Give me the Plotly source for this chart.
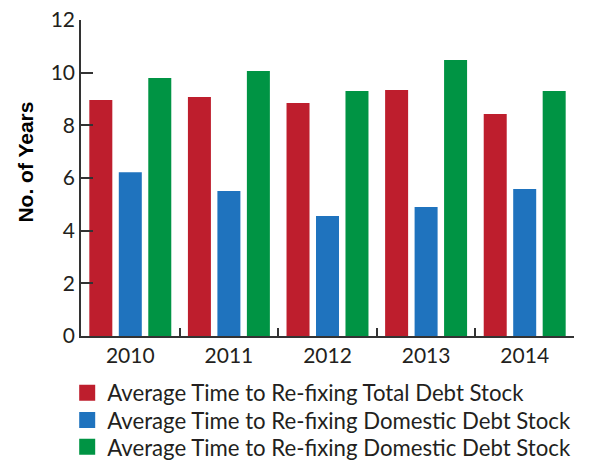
import plotly.graph_objects as go

years = ["2010", "2011", "2012", "2013", "2014"]
total_debt = [8.96, 9.08, 8.85, 9.34, 8.43]
domestic_debt = [6.22, 5.51, 4.56, 4.90, 5.58]
domestic_debt_2 = [9.80, 10.06, 9.30, 10.48, 9.30]

series_names = [
    "Average Time to Re-fixing Total Debt Stock",
    "Average Time to Re-fixing Domestic Debt Stock",
    "Average Time to Re-fixing Domestic Debt Stock",
]
series_values = [total_debt, domestic_debt, domestic_debt_2]
colors = ["#BE1E2D", "#1F73BE", "#009444"]

y_ticks = [0, 2, 4, 6, 8, 10, 12]

font_main = "Lato, 'Open Sans', sans-serif"
legend_ids = ["legend", "legend2", "legend3"]
legend_rows = [-0.180, -0.266, -0.351]

fig = go.Figure()
for name, vals, col in zip(series_names, series_values, colors):
    fig.add_trace(go.Bar(x=years, y=vals, name=name, marker_color=col,
                         marker_line_width=0, showlegend=False))
# one legend per series so rows can be spaced freely, with 16px swatches
for name, col, lid in zip(series_names, colors, legend_ids):
    fig.add_trace(go.Scatter(x=[years[0]], y=[None], name=name, mode="markers",
                             marker=dict(symbol="square", size=16, color=col),
                             showlegend=True, legend=lid))

legend_style = dict(orientation="v", x=-0.028, xanchor="left", yanchor="middle",
                    font=dict(family=font_main, size=22.2, color="#231F20"),
                    bgcolor="rgba(0,0,0,0)", borderwidth=0, itemwidth=30)

fig.update_layout(
    width=611, height=460,
    margin=dict(l=81, r=37, t=20, b=124, autoexpand=False),
    paper_bgcolor="white", plot_bgcolor="white",
    barmode="group", bargap=0.103, bargroupgap=0.22,
    font=dict(family=font_main, size=21, color="#231F20"),
    showlegend=True,
    legend=dict(y=legend_rows[0], **legend_style),
    legend2=dict(y=legend_rows[1], **legend_style),
    legend3=dict(y=legend_rows[2], **legend_style),
    annotations=[dict(
        text="<b>No. of Years</b>", textangle=-90, showarrow=False,
        xref="paper", yref="paper", x=-0.1116, y=0.552,
        xanchor="center", yanchor="middle",
        font=dict(family="'Liberation Sans', Arial, sans-serif", size=21, color="#000000"),
    )],
)
fig.update_xaxes(
    type="category", showline=True, linecolor="#333333", linewidth=1.5,
    ticks="inside", ticklen=8, tickwidth=1.5, tickcolor="#333333",
    tickson="boundaries", showgrid=False, zeroline=False,
    tickfont=dict(family=font_main, size=21, color="#231F20"),
)
fig.update_yaxes(
    range=[0, 12], tickvals=y_ticks, showline=True, linecolor="#333333", linewidth=1.5,
    ticks="inside", ticklen=12, tickwidth=1.5, tickcolor="#333333",
    showgrid=False, zeroline=False,
    tickfont=dict(family=font_main, size=21, color="#231F20"),
)

fig.write_html("out.html")
